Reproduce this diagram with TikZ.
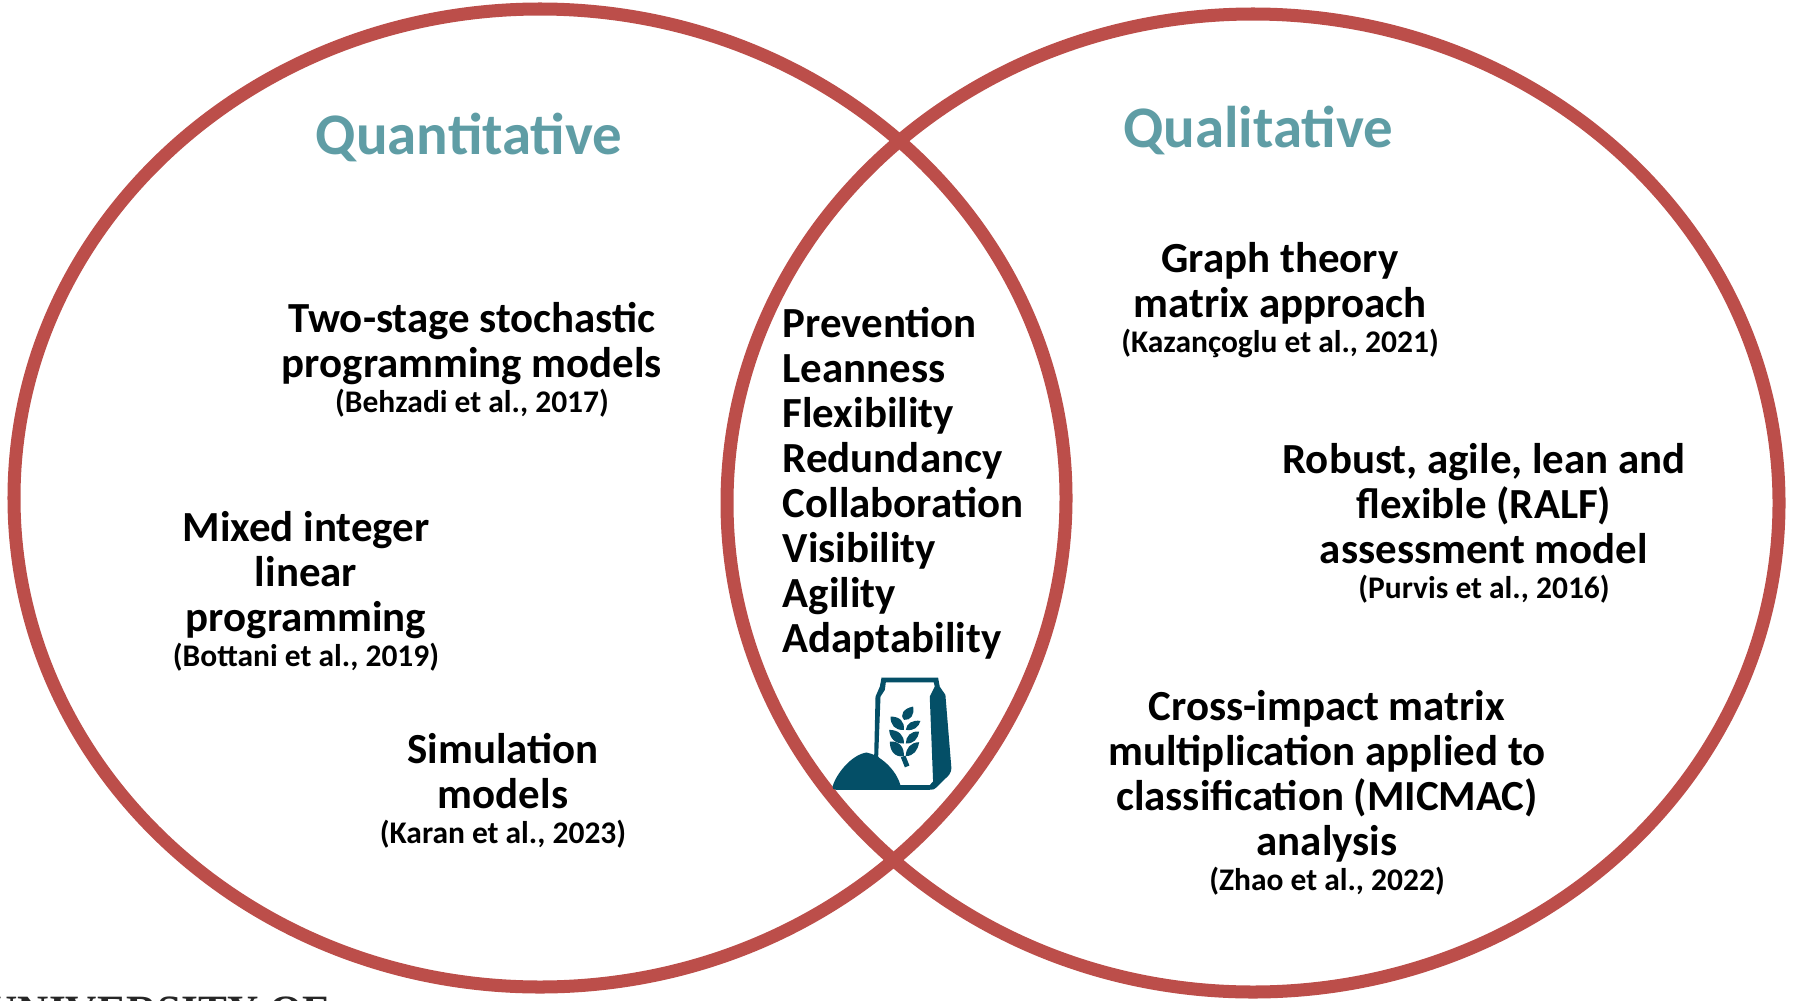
\documentclass[tikz,border=0pt]{standalone}
\usepackage{fontspec}
\setmainfont{Carlito}
\newfontfamily\footerfont{Liberation Serif}
\definecolor{ring}{HTML}{BC4E4A}
\definecolor{heading}{HTML}{5F9DA5}
\definecolor{iconblue}{HTML}{044F67}
\newcommand{\bodysize}{\fontsize{12.2}{12.8}\selectfont\bfseries}
\newcommand{\refline}[1]{\\[-2.9pt]{\fontsize{8.95}{10.5}\selectfont\bfseries #1}}
\tikzset{
  ringline/.style={draw=ring,line width=3.7pt},
  headtext/.style={text=heading,font=\fontsize{16.75}{20}\selectfont\bfseries,inner sep=0pt},
  block/.style={align=center,inner sep=0pt,text=black,font=\bodysize},
  listblock/.style={align=left,inner sep=0pt,text=black,font=\bodysize},
  iconfill/.style={fill=iconblue,draw=none},
}
\begin{document}
\begin{tikzpicture}[x=0.01cm,y=-0.01cm]
\useasboundingbox (0,0) rectangle (1794,1000);
\begin{scope}
\clip (0,0) rectangle (1794,1000);
\node[anchor=base west,inner sep=0pt,text=black!85] (footer) at (-14,1025) {\fontsize{12.3}{14}\selectfont\footerfont\bfseries UNIVERSITY OF};
\end{scope}
\draw[ringline] (540,498) ellipse [x radius=526,y radius=489];
\draw[ringline] (1253,503) ellipse [x radius=526,y radius=489];
\node[headtext] (quant) at (469,137) {Quantitative};
\node[headtext] (qual) at (1258,130) {Qualitative};
\node[block] (a) at (472,360) {Two-stage stochastic\\programming models\refline{(Behzadi et al., 2017)}};
\node[block] (b) at (306,591) {Mixed integer\\linear\\programming\refline{(Bottani et al., 2019)}};
\node[block] (c) at (503,791) {Simulation\\models\refline{(Karan et al., 2023)}};
\node[listblock,anchor=north west] (m) at (782,307) {Prevention\\Leanness\\Flexibility\\Redundancy\\Collaboration\\Visibility\\Agility\\Adaptability};
\node[block] (d) at (1280,300) {Graph theory\\matrix approach\refline{(Kazançoglu et al., 2021)}};
\node[block] (e) at (1484,523) {Robust, agile, lean and\\flexible (RALF)\\assessment model\refline{(Purvis et al., 2016)}};
\node[block] (f) at (1327,793) {Cross-impact matrix\\multiplication applied to\\classification (MICMAC)\\analysis\refline{(Zhao et al., 2022)}};
% icon, in coordinates of a 3x crop
\begin{scope}[shift={(780,640)},x=0.00333cm,y=-0.00333cm]
\path[iconfill,even odd rule] (305,113) -- (475,113) -- (480,140) -- (497,165) -- (515,385)
  .. controls (515,400) and (505,410) .. (495,418) -- (470,443)
  .. controls (465,449) and (460,450) .. (450,450) -- (290,450) -- (283,350) -- (287,170) -- (300,140) -- cycle
  (318,127) -- (462,127) -- (465,140) -- (450,170) -- (460,425) -- (450,436) -- (355,436) -- (295,350) -- (302,170) -- (315,150) -- cycle;
\path[iconfill] (158,440) .. controls (170,400) and (215,345) .. (260,338)
  .. controls (300,345) and (350,390) .. (362,437) -- (362,450) -- (168,450) .. controls (160,450) and (157,445) .. (158,440) -- cycle;
\path[iconfill] (400,200) .. controls (405,225) and (392,242) .. (373,240) .. controls (358,225) and (372,205) .. (400,200) -- cycle;
\path[iconfill] (332,230) .. controls (360,230) and (375,245) .. (372,270) .. controls (345,272) and (332,255) .. (332,230) -- cycle;
\path[iconfill] (422,243) .. controls (398,240) and (380,250) .. (378,270) .. controls (402,274) and (417,262) .. (422,243) -- cycle;
\path[iconfill] (328,270) .. controls (355,270) and (374,285) .. (372,311) .. controls (345,312) and (330,295) .. (328,270) -- cycle;
\path[iconfill] (418,275) .. controls (392,273) and (378,290) .. (378,311) .. controls (402,312) and (414,298) .. (418,275) -- cycle;
\path[iconfill] (330,305) .. controls (357,303) and (374,320) .. (372,350) .. controls (345,352) and (330,335) .. (330,305) -- cycle;
\path[iconfill] (418,307) .. controls (392,308) and (378,325) .. (378,349) .. controls (402,348) and (414,332) .. (418,307) -- cycle;
\draw[iconblue,line width=1.4pt] (370,350) -- (382,380);
\end{scope}
\end{tikzpicture}
\end{document}
